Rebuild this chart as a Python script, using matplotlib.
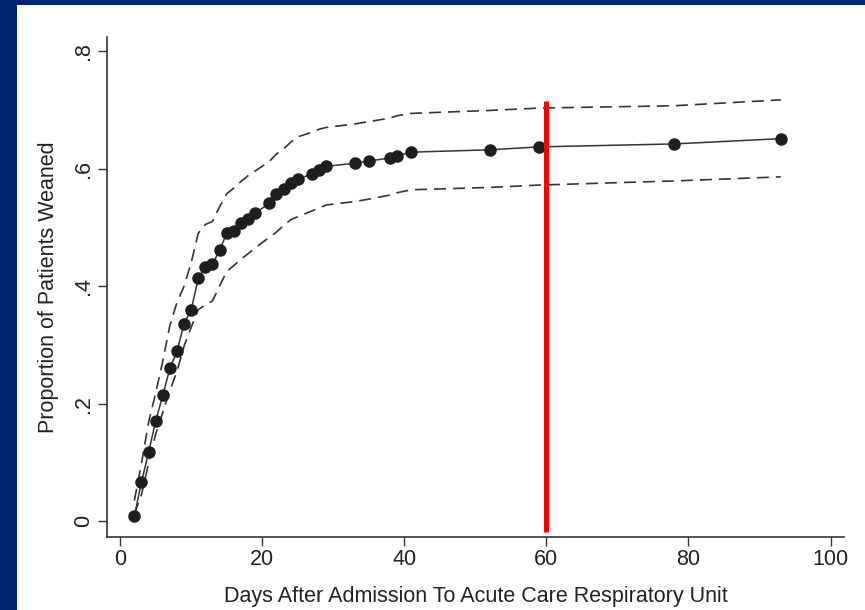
import matplotlib
matplotlib.use("Agg")
import matplotlib.pyplot as plt
from matplotlib.patches import Rectangle

days = [2, 3, 4, 5, 6, 7, 8, 9, 10, 11, 12, 13, 14, 15, 16, 17, 18, 19, 21, 22,
        23, 24, 25, 27, 28, 29, 33, 35, 38, 39, 41, 52, 59, 78, 93]
prop = [0.009, 0.066, 0.117, 0.170, 0.214, 0.260, 0.289, 0.336, 0.360, 0.413,
        0.433, 0.437, 0.461, 0.490, 0.494, 0.508, 0.515, 0.524, 0.541, 0.556,
        0.566, 0.575, 0.583, 0.590, 0.597, 0.604, 0.609, 0.613, 0.618, 0.622,
        0.628, 0.632, 0.637, 0.642, 0.651]
upper = [0.035, 0.098, 0.168, 0.218, 0.272, 0.333, 0.372, 0.400, 0.440, 0.490,
         0.505, 0.510, 0.535, 0.557, 0.567, 0.578, 0.588, 0.596, 0.612, 0.625,
         0.633, 0.645, 0.654, 0.662, 0.667, 0.670, 0.676, 0.680, 0.686, 0.690,
         0.694, 0.699, 0.703, 0.707, 0.717]
lower = [0.012, 0.045, 0.098, 0.148, 0.185, 0.222, 0.255, 0.298, 0.330, 0.360,
         0.368, 0.375, 0.400, 0.425, 0.435, 0.446, 0.455, 0.465, 0.483, 0.492,
         0.503, 0.513, 0.518, 0.528, 0.533, 0.538, 0.544, 0.548, 0.555, 0.559,
         0.564, 0.568, 0.572, 0.579, 0.586]
cutoff_day = 60
cutoff_range = [-0.018, 0.715]

xticks = [0, 20, 40, 60, 80, 100]
yticks = [0, 0.2, 0.4, 0.6, 0.8]
ytick_labels = ["0", ".2", ".4", ".6", ".8"]

plt.rcParams['font.family'] = ['Liberation Sans', 'DejaVu Sans']

fig = plt.figure(figsize=(8.65, 6.10), dpi=100)
fig.patch.set_facecolor('#00266F')
panel = Rectangle((17 / 865, 0), 1 - 17 / 865, 1 - 5 / 610,
                  transform=fig.transFigure, facecolor='white',
                  edgecolor='none', zorder=-10)
fig.add_artist(panel)

ax = fig.add_axes([107 / 865, 1 - 537 / 610, (844 - 107) / 865, (537 - 37) / 610])
ax.set_facecolor('none')
ax.set_zorder(5)

ax.plot(days, upper, color='#333333', lw=1.2, dashes=(7.2, 4.2), zorder=2)
ax.plot(days, lower, color='#333333', lw=1.2, dashes=(7.2, 4.2), zorder=2)
ax.plot(days, prop, color='#333333', lw=1.1, marker='o', markersize=8,
        markerfacecolor='#1e1e1e', markeredgecolor='#1e1e1e', zorder=3)
ax.plot([cutoff_day, cutoff_day], cutoff_range, color='#ff0000', lw=3.6, zorder=4,
        solid_capstyle='butt')

ax.set_xlim(-1.85, 101.9)
ax.set_ylim(-0.027, 0.824)
ax.set_xticks(xticks)
ax.set_yticks(yticks)
ax.set_yticklabels(ytick_labels, rotation=90, va='center')

for s in ['top', 'right']:
    ax.spines[s].set_visible(False)
for s in ['left', 'bottom']:
    ax.spines[s].set_color('#333333')
    ax.spines[s].set_linewidth(1.2)
ax.tick_params(axis='both', direction='out', length=6.5, width=1.0,
               color='#333333', labelsize=15.5, labelcolor='#222222')
ax.tick_params(axis='x', pad=2)
ax.tick_params(axis='y', pad=3)

ax.set_xlabel('Days After Admission To Acute Care Respiratory Unit',
              fontsize=15.5, color='#222222', labelpad=12)
ax.set_ylabel('Proportion of Patients Weaned', fontsize=15.5, color='#222222',
              labelpad=10)

fig.savefig('out.png', dpi=100)
